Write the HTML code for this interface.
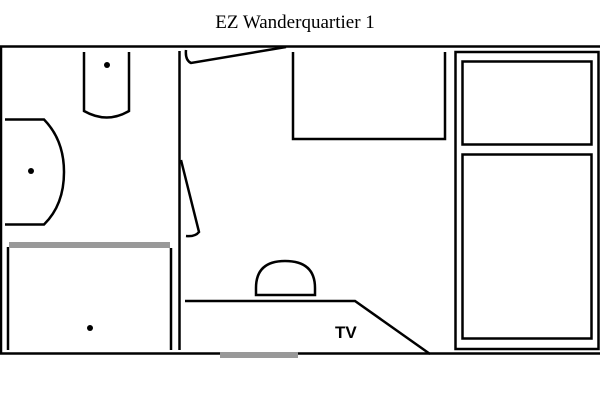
<!DOCTYPE html>
<html><head><style>body{margin:0;background:#fff}svg{display:block}</style></head><body>
<svg width="600" height="400" viewBox="0 0 600 400" xmlns="http://www.w3.org/2000/svg">
<text x="295" y="28" text-anchor="middle" font-family="Liberation Serif, serif" font-size="19">EZ Wanderquartier 1</text>
<g fill="none" stroke="#000" stroke-width="2.5">
<path d="M0 46.5H600M0 353.5H600"/>
<line x1="1" y1="46" x2="1" y2="354"/>
<line x1="179.5" y1="51" x2="179.5" y2="350"/>
<path d="M84 52V111Q107 124 129 111V52"/>
<path d="M5 119.5H44Q64 140 64 172Q64 205 44 224.5H5"/>
<path d="M8 247V350M171 248V350"/>
<path d="M186 50Q185 60 191 63L286 47"/>
<path d="M181 160L199 232Q195 237 186 236"/>
<path d="M293 52V139H445V52"/>
<path d="M256 295V288Q256 261 285 261Q315 261 315 288V295Z"/>
<path d="M185 301H355L430 354"/>
<rect x="455.5" y="52" width="143" height="297"/>
<rect x="462.5" y="61.5" width="129" height="83"/>
<rect x="462.5" y="154.5" width="129" height="184"/>
</g>
<path d="M9 245H170M220 355H298" stroke="#999" stroke-width="6"/>
<g fill="#000"><circle cx="107" cy="65" r="3"/><circle cx="31" cy="171" r="3"/><circle cx="90" cy="328" r="3"/></g>
<text x="335" y="338" font-family="Liberation Sans, sans-serif" font-weight="bold" font-size="17">TV</text>
</svg>
</body></html>
